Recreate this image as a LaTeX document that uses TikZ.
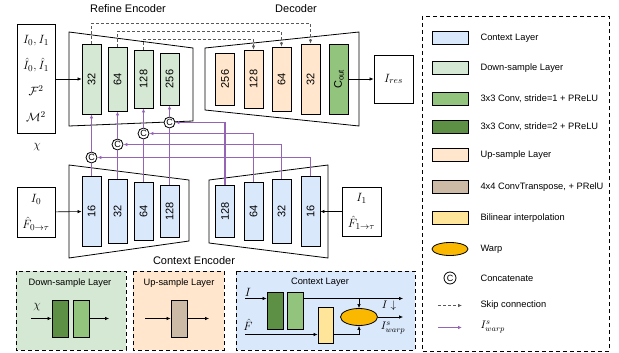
\documentclass[tikz,border=0pt]{standalone}
\usepackage{amsmath}
\usepackage{fontspec}
\setmainfont{Liberation Sans}
\usetikzlibrary{positioning,calc}
\usetikzlibrary{arrows.meta}
\usetikzlibrary{shapes.geometric}

\definecolor{ctxblue}{RGB}{218,232,252}
\definecolor{downgreen}{RGB}{213,232,212}
\definecolor{convone}{RGB}{147,196,125}
\definecolor{convtwo}{RGB}{93,143,68}
\definecolor{uporange}{RGB}{255,230,204}
\definecolor{transbrown}{RGB}{205,186,166}
\definecolor{biyellow}{RGB}{255,229,153}
\definecolor{warporange}{RGB}{250,185,0}
\definecolor{featpurple}{RGB}{150,100,180}

\begin{document}
\begin{tikzpicture}[x=1pt,y=-1pt,
         font=\fontsize{9.3}{11}\selectfont,
         >={Latex[length=4pt,width=3.5pt]},
         layer/.style = {draw,line width=0.8pt,minimum width=19pt,inner sep=0pt,
         font=\fontsize{11}{13}\selectfont},
         ctx/.style = {layer,fill=ctxblue},
         down/.style = {layer,fill=downgreen},
         up/.style = {layer,fill=uporange},
         trap/.style = {draw,line width=0.8pt},
         inbox/.style = {draw,line width=0.8pt,fill=white,align=center,
         font=\fontsize{12.5}{26}\selectfont},
         mathlbl/.style = {font=\fontsize{12.5}{15}\selectfont,inner sep=1pt},
         title/.style = {font=\fontsize{11}{13}\selectfont},
         concat/.style = {circle,draw,line width=0.8pt,fill=white,inner sep=0pt,
         minimum size=11pt,font=\fontsize{9}{9}\selectfont},
         feat/.style = {draw=featpurple,line width=1.1pt},
         skipline/.style = {draw=gray!70!black,densely dashed,line width=0.7pt},
         swatch/.style = {draw,line width=0.8pt,minimum width=36pt,
         minimum height=13pt,inner sep=0pt},
         panel/.style = {draw,dashed,line width=0.6pt,dash pattern=on 4pt off 3pt}
]
   \useasboundingbox (0,0) rectangle (619,353);

   % refine encoder and decoder
   \draw[trap] (69,32) -- (193,48) -- (193,121) -- (69,126) -- cycle;
   \draw[trap] (205,48) -- (359,32) -- (359,126) -- (205,110) -- cycle;
   \node[title] (refinelbl) at (128,9) {Refine Encoder};
   \node[title] (declbl) at (296,9) {Decoder};

   \node[down,minimum height=70pt] (r32)  at (91.5,79)  {\rotatebox{90}{32}};
   \node[down,minimum height=64pt] (r64)  at (117.5,79) {\rotatebox{90}{64}};
   \node[down,minimum height=58pt] (r128) at (143.5,79) {\rotatebox{90}{128}};
   \node[down,minimum height=52pt] (r256) at (169.5,79) {\rotatebox{90}{256}};

   \node[up,minimum height=52pt] (d256) at (225,79)   {\rotatebox{90}{256}};
   \node[up,minimum height=58pt] (d128) at (253.5,79) {\rotatebox{90}{128}};
   \node[up,minimum height=64pt] (d64)  at (281.5,79) {\rotatebox{90}{64}};
   \node[up,minimum height=70pt] (d32)  at (310.5,79) {\rotatebox{90}{32}};
   \node[layer,fill=convone,minimum height=70pt] (dout) at (339,79)
      {\rotatebox{90}{C\textsubscript{out}}};

   \node[inbox,minimum width=39pt,minimum height=48pt] (ires) at (393.5,79)
      {$I_{res}$};
   \draw[->,line width=0.6pt] (dout) -- (ires);

   % refine input
   \node[inbox,minimum width=38pt,minimum height=109pt] (rin) at (36,78.5)
      {$I_0,I_1$\\$\hat{I}_0,\hat{I}_1$\\$\mathcal{F}^2$\\$\mathcal{M}^2$};
   \node[mathlbl] (chi) at (37,147) {$\chi$};
   \draw[->,line width=0.6pt] (rin.east |- r32) -- (r32);

   % skip connections
   \coordinate (sk1) at (0,23.5);
   \coordinate (sk2) at (0,31.5);
   \coordinate (sk3) at (0,39.5);
   \draw[skipline,->] (r32.north)  -- (r32.north |- sk1)  -- (d32.north |- sk1)  -- (d32.north);
   \draw[skipline,->] (r64.north)  -- (r64.north |- sk2)  -- (d64.north |- sk2)  -- (d64.north);
   \draw[skipline,->] (r128.north) -- (r128.north |- sk3) -- (d128.north |- sk3) -- (d128.north);

   % context encoder
   \draw[trap] (69,165) -- (189,180) -- (189,241) -- (69,258) -- cycle;
   \draw[trap] (209,180) -- (328,165) -- (328,258) -- (209,243) -- cycle;
   \node[title] (ctxlbl) at (194,261) {Context Encoder};

   \node[ctx,minimum height=70pt] (cl16)  at (91.5,211.5)  {\rotatebox{90}{16}};
   \node[ctx,minimum height=64pt] (cl32)  at (117.5,211.5) {\rotatebox{90}{32}};
   \node[ctx,minimum height=58pt] (cl64)  at (143.5,211.5) {\rotatebox{90}{64}};
   \node[ctx,minimum height=52pt] (cl128) at (169.5,211.5) {\rotatebox{90}{128}};

   \node[ctx,minimum height=52pt] (cr128) at (225,211.5)   {\rotatebox{90}{128}};
   \node[ctx,minimum height=58pt] (cr64)  at (253.5,211.5) {\rotatebox{90}{64}};
   \node[ctx,minimum height=64pt] (cr32)  at (281.5,211.5) {\rotatebox{90}{32}};
   \node[ctx,minimum height=70pt] (cr16)  at (310.5,211.5) {\rotatebox{90}{16}};

   \node[inbox,minimum width=38pt,minimum height=50pt] (lin) at (36,212)
      {$I_0$\\$\hat{F}_{0\to\tau}$};
   \draw[->,line width=0.6pt] (lin) -- (cl16);

   \node[inbox,minimum width=39pt,minimum height=49pt] (rin0) at (361.5,211.5)
      {$I_1$\\$\hat{F}_{1\to\tau}$};
   \draw[->,line width=0.6pt] (rin0) -- (cr16);

   % concatenation of context features
   \node[concat] (c1) at (91.5,157.5)  {C};
   \node[concat] (c2) at (117.5,144.5) {C};
   \node[concat] (c3) at (143.5,133.5) {C};
   \node[concat] (c4) at (169.5,122.5) {C};

   \coordinate (h1) at (310.5,157.5);
   \coordinate (h2) at (281.5,144.5);
   \coordinate (h3) at (253.5,133.5);
   \coordinate (h4) at (225,122.5);

   \draw[feat] (cl16.north)  -- (c1.south);
   \draw[feat] (cl32.north)  -- (c2.south);
   \draw[feat] (cl64.north)  -- (c3.south);
   \draw[feat] (cl128.north) -- (c4.south);
   \draw[feat,->] (c1.north) -- (r32.south);
   \draw[feat,->] (c2.north) -- (r64.south);
   \draw[feat,->] (c3.north) -- (r128.south);
   \draw[feat,->] (c4.north) -- (r256.south);
   \draw[feat,->] (cr16.north)  -- (h1) -- (c1.east);
   \draw[feat,->] (cr32.north)  -- (h2) -- (c2.east);
   \draw[feat,->] (cr64.north)  -- (h3) -- (c3.east);
   \draw[feat,->] (cr128.north) -- (h4) -- (c4.east);

   % down-sample layer
   \draw[panel,fill=downgreen] (16,271) rectangle (126,350);
   \node (downlbl) at (70,283) {Down-sample Layer};
   \node[layer,fill=convtwo,minimum width=16pt,minimum height=37pt] (dsa) at (60,318.5) {};
   \node[layer,fill=convone,minimum width=16pt,minimum height=37pt] (dsb) at (81,318.5) {};
   \node[mathlbl] (dschi) at (37,307) {$\chi$};
   \coordinate (dsin) at (31,318.5);
   \coordinate (dsout) at (109,318.5);
   \draw[->,line width=0.6pt] (dsin) -- (dsa);
   \draw[->,line width=0.6pt] (dsb) -- (dsout);

   % up-sample layer
   \draw[panel,fill=uporange] (133,271) rectangle (224,350);
   \node (uplbl) at (179,283) {Up-sample Layer};
   \node[layer,fill=transbrown,minimum width=16pt,minimum height=37pt] (usa) at (179,318.5) {};
   \coordinate (usin) at (145,318.5);
   \coordinate (usout) at (209,318.5);
   \draw[->,line width=0.6pt] (usin) -- (usa);
   \draw[->,line width=0.6pt] (usa) -- (usout);

   % context layer
   \draw[panel,fill=ctxblue] (236,271) rectangle (415,350);
   \node (ctxlayerlbl) at (320,282) {Context Layer};
   \node[layer,fill=convtwo,minimum width=16pt,minimum height=37pt] (cla) at (275,310.5) {};
   \node[layer,fill=convone,minimum width=16pt,minimum height=37pt] (clb) at (295,310.5) {};
   \node[layer,fill=biyellow,minimum width=15pt,minimum height=36pt] (clbi) at (325.5,325) {};
   \node[ellipse,draw,line width=0.8pt,fill=warporange,minimum width=37pt,
      minimum height=17pt,inner sep=0pt] (clwarp) at (359,317) {};
   \node[mathlbl] (cli) at (248,292) {$I$};
   \node[mathlbl] (clf) at (248,325) {$\hat{F}$};
   \node[mathlbl,font=\fontsize{11}{13}\selectfont] (clidown) at (389,306) {$I\downarrow$};
   \node[mathlbl,font=\fontsize{11}{13}\selectfont] (clwout) at (393,328) {$I^{s}_{warp}$};
   \coordinate (clin) at (245,298.5);
   \coordinate (clfin) at (245,334.5);
   \coordinate (clout) at (403,298.5);
   \coordinate (clwend) at (403,317);
   \draw[->,line width=0.6pt] (clin) -- (cla.west |- clin);
   \draw[->,line width=0.6pt] (clb.east |- clin) -- (clout);
   \draw[->,line width=0.6pt] (clwarp.north |- clin) -- (clwarp.north);
   \draw[->,line width=0.6pt] (clfin) -- (clbi.west |- clfin);
   \draw[->,line width=0.6pt] (clbi.east |- clfin) -| (clwarp.south);
   \draw[->,line width=0.6pt] (clwarp) -- (clwend);

   % legend
   \draw[panel] (422,16) rectangle (609,351);
   \node[swatch,fill=ctxblue]    (lg1) at (450,38)  {};
   \node[swatch,fill=downgreen]  (lg2) at (450,68)  {};
   \node[swatch,fill=convone]    (lg3) at (450,99)  {};
   \node[swatch,fill=convtwo]    (lg4) at (450,127) {};
   \node[swatch,fill=uporange]   (lg5) at (450,155) {};
   \node[swatch,fill=transbrown] (lg6) at (450,187) {};
   \node[swatch,fill=biyellow]   (lg7) at (450,218) {};
   \node[ellipse,draw,line width=0.8pt,fill=warporange,minimum width=36pt,
      minimum height=13pt,inner sep=0pt] (lg8) at (450,249) {};
   \node[concat,minimum size=12pt] (lg9) at (450,278) {C};
   \coordinate (lg10a) at (438,305.5);
   \coordinate (lg10b) at (462,305.5);
   \coordinate (lg11a) at (438,327.5);
   \coordinate (lg11b) at (462,327.5);
   \draw[skipline,->] (lg10a) -- (lg10b);
   \draw[feat,->] (lg11a) -- (lg11b);

   \node[anchor=west] (lt1)  at (477,38)  {Context Layer};
   \node[anchor=west] (lt2)  at (477,68)  {Down-sample Layer};
   \node[anchor=west] (lt3)  at (477,99)  {3x3 Conv, stride=1 + PReLU};
   \node[anchor=west] (lt4)  at (477,127) {3x3 Conv, stride=2 + PReLU};
   \node[anchor=west] (lt5)  at (477,155) {Up-sample Layer};
   \node[anchor=west] (lt6)  at (477,187) {4x4 ConvTranspose, + PRelU};
   \node[anchor=west] (lt7)  at (477,218) {Bilinear interpolation};
   \node[anchor=west] (lt8)  at (477,249) {Warp};
   \node[anchor=west] (lt9)  at (477,278) {Concatenate};
   \node[anchor=west] (lt10) at (477,305) {Skip connection};
   \node[anchor=west,font=\fontsize{11}{13}\selectfont] (lt11) at (477,327) {$I^{s}_{warp}$};
\end{tikzpicture}
\end{document}
